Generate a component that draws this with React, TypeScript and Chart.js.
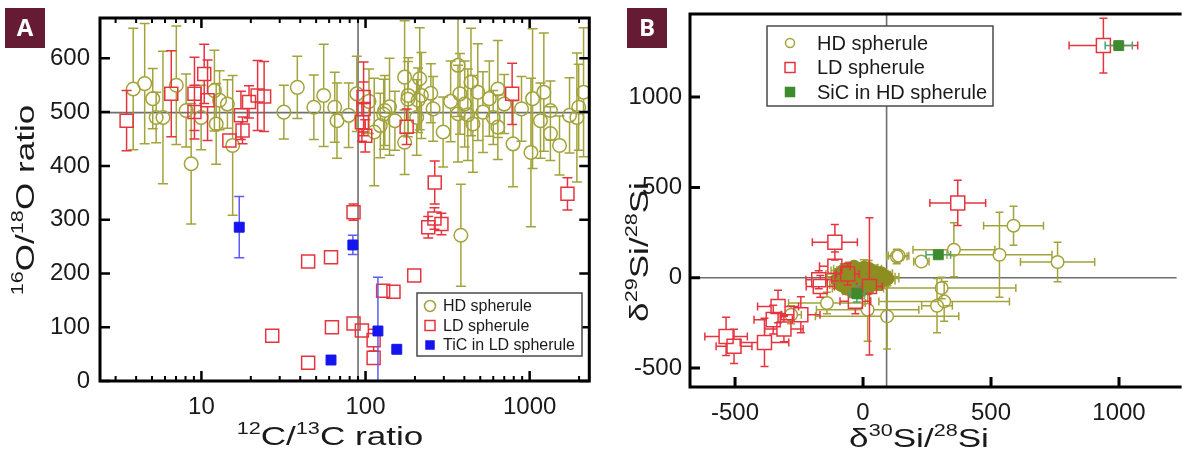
import React, { useEffect, useRef } from 'react';
import { Chart, registerables } from 'chart.js';
Chart.register(...registerables);

const FONT = "'Liberation Sans', Arial, Helvetica, sans-serif";
const TEXT = '#1a1a1a';
const OLIVE = '#a3a33b';
const BLOB = '#8d8d22';
const RED = '#e6343f';
const BLUE = '#1414ee';
const BLUE_ERR = '#5c5cf5';
const GREEN = '#3e8b2e';
const GREEN_ERR = '#4aa36a';
const REFLINE = '#6e6e6e';

// ---------------- Panel A: 12C/13C vs 16O/18O ----------------
const seriesNamesA = ['HD spherule', 'LD spherule', 'TiC in LD spherule'];
const hdA_x = [3.84, 4.51, 5.05, 5.3, 5.83, 7.03, 8.07, 8.66, 9.96, 12.0, 12.9, 12.3, 14.4, 15.5, 31.8, 38.4, 48.4, 55.6, 64.9, 67, 78.9, 88.5, 105, 113, 123, 129, 131, 140, 151, 173, 173, 181, 182, 205, 209, 214, 219, 250, 258, 297, 330, 366, 366, 376, 381, 402, 420, 439, 451, 483, 519, 568, 600, 640, 640, 700, 792, 892, 1018, 1042, 1164, 1220, 1338, 1338, 1520, 1750, 1940, 1990, 2130];
const hdA_y = [543, 553, 525, 490, 490, 550, 503, 404, 490, 540, 522, 478, 515, 438, 500, 546, 509, 531, 509, 484, 494, 534, 520, 463, 475, 496, 503, 510, 484, 565, 444, 524, 531, 490, 522, 562, 531, 535, 506, 463, 520, 587, 497, 534, 271, 515, 495, 556, 478, 537, 500, 525, 490, 543, 472, 515, 441, 506, 425, 525, 484, 537, 503, 460, 438, 494, 490, 509, 537];
const hdA_err = [113, 112, 56, 47, 123, 110, 68, 112, 60, 75, 55, 75, 45, 130, 50, 58, 60, 95, 65, 70, 60, 70, 60, 100, 60, 65, 65, 90, 55, 105, 60, 70, 70, 70, 60, 95, 80, 55, 60, 65, 75, 95, 90, 75, 95, 80, 85, 100, 90, 90, 75, 70, 50, 90, 60, 55, 80, 60, 138, 130, 70, 110, 55, 50, 55, 70, 120, 80, 120];

const ldA_x = [3.5, 6.55, 9.07, 9.07, 10.4, 10.9, 14.8, 17.4, 17.8, 19.5, 22, 24.1, 95, 97.3, 97.3, 99.6, 178, 264, 782, 1700, 44.7, 61.6, 27, 44.7, 62.4, 84.5, 84.5, 95, 112, 112, 128, 148, 198, 241, 263, 290];
const ldA_y = [484, 534, 534, 500, 571, 522, 447, 494, 466, 519, 531, 529, 481, 528, 506, 456, 473, 369, 534, 348, 222, 230, 84, 34, 100, 314, 107, 94, 76, 43, 168, 166, 196, 286, 302, 292];
const ldA_err = [56, 80, 68, 50, 55, 75, 10, 45, 25, 30, 65, 65, 35, 65, 50, 30, 33, 40, 57, 30, 0, 12, 0, 0, 0, 15, 0, 0, 20, 0, 0, 0, 0, 20, 20, 20];

const ticA_x = [17.0, 83.7, 61.6, 119, 155];
const ticA_y = [286, 253, 39, 93, 59];
const ticA_err = [57, 18, 0, 100, 0];

const xTicksA = [10, 100, 1000];
const yTicksA = [0, 100, 200, 300, 400, 500, 600];
const solarA = { c: 90, o: 499 };

// ---------------- Panel B: d30Si vs d29Si ----------------
const seriesNamesB = ['HD spherule', 'LD spherule', 'SiC in HD spherule'];
const hdB_x = [588, 533, 760, 355, 228, 132, 307, 317, 289, 18, 94, -141, -281, 139];
const hdB_y = [288, 127, 87, 155, 90, 118, -57, -131, -155, -177, -214, -140, -205, 122];
const hdB_xerr = [117, 205, 145, 160, 30, 40, 290, 255, 60, 200, 280, 150, 40, 40];
const hdB_yerr = [108, 235, 109, 150, 30, 40, 60, 110, 150, 175, 180, 60, 50, 30];

const hdBlob_x = [-100, -90, -85, -80, -75, -70, -65, -60, -55, -50, -48, -45, -40, -38, -35, -30, -28, -25, -20, -18, -15, -12, -10, -8, -5, -2, 0, 3, 5, 8, 10, 12, 15, 18, 20, 22, 25, 28, 30, 35, 40, 45, 50, 55, 60, 65, 70, 75, 85, 95];
const hdBlob_y = [-10, 20, -40, 5, 40, -25, -60, 15, 50, -10, -45, 25, -75, 0, 60, -30, 35, -55, 10, -15, 45, -40, 20, -70, -5, 30, -25, 55, -50, 5, -15, 35, -35, 15, -60, 50, -5, 25, -40, 10, -20, 30, -10, 15, -35, 5, 25, -15, 5, -5];
const hdBlob_xerr = [40, 55, 45, 60, 50, 40, 55, 45, 60, 50, 45, 55, 40, 60, 50, 45, 55, 50, 40, 60, 45, 50, 55, 40, 60, 45, 50, 55, 40, 60, 50, 45, 55, 40, 60, 50, 45, 55, 50, 40, 60, 45, 55, 50, 40, 60, 45, 50, 55, 45];
const hdBlob_yerr = [35, 40, 30, 45, 38, 42, 30, 45, 35, 40, 32, 45, 35, 40, 30, 44, 35, 40, 30, 45, 36, 40, 30, 45, 35, 42, 30, 45, 35, 40, 30, 45, 38, 40, 30, 45, 35, 40, 32, 45, 35, 40, 30, 45, 35, 40, 30, 45, 35, 40];

const ldB_x = [939, 370, -110, -535, -504, -385, -332, -351, -309, -243, -110, -167, -173, 25, -60, -30];
const ldB_y = [1285, 414, 196, -325, -380, -358, -159, -232, -284, -205, 63, -48, -11, -48, 20, -130];
const ldB_xerr = [134, 109, 88, 83, 70, 95, 80, 75, 75, 75, 60, 55, 50, 50, 45, 60];
const ldB_yerr = [152, 125, 98, 106, 95, 134, 90, 80, 70, 100, 80, 60, 50, 380, 60, 70];

const sicB_x = [999, 294, -24];
const sicB_y = [1285, 127, -89];
const sicB_xerr = [53, 48, 30];
const sicB_yerr = [20, 25, 45];

const xTicksB = [-500, 0, 500, 1000];
const yTicksB = [-500, 0, 500, 1000];
const solarB = { x: 92, y: 0 };

// ---------------- helpers ----------------
type Part = { t: string; sup?: boolean };

function ptsY(xs: number[], ys: number[], es: number[]) {
  return xs.map((x, i) => ({ x, y: ys[i], ey: es[i] }));
}
function ptsXY(xs: number[], ys: number[], exs: number[], eys: number[]) {
  return xs.map((x, i) => ({ x, y: ys[i], ex: exs[i], ey: eys[i] }));
}

function drawErrorBars(chart: any, index: number) {
  const ds: any = chart.data.datasets[index];
  const st = ds.errStyle;
  if (!st) return;
  const { ctx, chartArea: a } = chart;
  const xs = chart.scales.x;
  const ys = chart.scales.y;
  ctx.save();
  ctx.beginPath();
  ctx.rect(a.left, a.top, a.right - a.left, a.bottom - a.top);
  ctx.clip();
  ctx.strokeStyle = st.color;
  ctx.lineWidth = st.width;
  ctx.beginPath();
  const h = st.cap / 2;
  for (const p of ds.data) {
    const px = xs.getPixelForValue(p.x);
    const py = ys.getPixelForValue(p.y);
    if (p.ey) {
      const yt = ys.getPixelForValue(p.y + p.ey);
      const yb = ys.getPixelForValue(p.y - p.ey);
      if (py - yt > st.gap) {
        ctx.moveTo(px, py - st.gap); ctx.lineTo(px, yt);
        ctx.moveTo(px - h, yt); ctx.lineTo(px + h, yt);
      }
      if (yb - py > st.gap) {
        ctx.moveTo(px, py + st.gap); ctx.lineTo(px, yb);
        ctx.moveTo(px - h, yb); ctx.lineTo(px + h, yb);
      }
    }
    if (p.ex) {
      const xl = xs.getPixelForValue(p.x - p.ex);
      const xr = xs.getPixelForValue(p.x + p.ex);
      if (px - xl > st.gap) {
        ctx.moveTo(px - st.gap, py); ctx.lineTo(xl, py);
        ctx.moveTo(xl, py - h); ctx.lineTo(xl, py + h);
      }
      if (xr - px > st.gap) {
        ctx.moveTo(px + st.gap, py); ctx.lineTo(xr, py);
        ctx.moveTo(xr, py - h); ctx.lineTo(xr, py + h);
      }
    }
  }
  ctx.stroke();
  ctx.restore();
}

function drawRich(ctx: CanvasRenderingContext2D, parts: Part[], x: number, y: number, rotate: boolean, size: number, stretch: number) {
  const supSize = Math.round(size * 0.62);
  const rise = size * 0.42;
  ctx.save();
  ctx.translate(x, y);
  if (rotate) ctx.rotate(-Math.PI / 2);
  ctx.scale(stretch, 1);
  const widths = parts.map((p) => {
    ctx.font = `${p.sup ? supSize : size}px ${FONT}`;
    return ctx.measureText(p.t).width;
  });
  const total = widths.reduce((s, w) => s + w, 0);
  let cx = -total / 2;
  ctx.textAlign = 'left';
  ctx.textBaseline = 'alphabetic';
  ctx.fillStyle = TEXT;
  parts.forEach((p, i) => {
    ctx.font = `${p.sup ? supSize : size}px ${FONT}`;
    ctx.fillText(p.t, cx, p.sup ? -rise : 0);
    cx += widths[i];
  });
  ctx.restore();
}

function drawPanelLabel(ctx: CanvasRenderingContext2D, x: number, y: number, letter: string) {
  ctx.save();
  ctx.fillStyle = '#661b35';
  ctx.fillRect(x, y, 40, 40);
  ctx.fillStyle = '#ffffff';
  ctx.font = `bold 24px 'Open Sans', ${FONT}`;
  ctx.textAlign = 'center';
  ctx.textBaseline = 'middle';
  ctx.fillText(letter, x + 20, y + 21);
  ctx.restore();
}

type LegendItem = { label: string; shape: 'circle' | 'rect'; stroke: string; fill: string; size: number };
function drawLegend(ctx: CanvasRenderingContext2D, box: { x: number; y: number; w: number; h: number }, items: LegendItem[], rowY: number[], markerX: number, textX: number, fontSize: number) {
  ctx.save();
  ctx.fillStyle = '#ffffff';
  ctx.fillRect(box.x, box.y, box.w, box.h);
  ctx.strokeStyle = '#4a4a4a';
  ctx.lineWidth = 1.5;
  ctx.strokeRect(box.x, box.y, box.w, box.h);
  items.forEach((it, i) => {
    const yy = rowY[i];
    ctx.lineWidth = 1.5;
    ctx.strokeStyle = it.stroke;
    ctx.fillStyle = it.fill;
    ctx.beginPath();
    if (it.shape === 'circle') ctx.arc(markerX, yy, it.size, 0, Math.PI * 2);
    else ctx.rect(markerX - it.size / 2, yy - it.size / 2, it.size, it.size);
    ctx.fill();
    ctx.stroke();
    ctx.fillStyle = TEXT;
    ctx.font = `${fontSize}px ${FONT}`;
    ctx.textAlign = 'left';
    ctx.textBaseline = 'middle';
    ctx.fillText(it.label, textX, yy + 1);
  });
  ctx.restore();
}

const tickFont = { family: FONT, size: 24 };

// ---------------- chart A ----------------
function configA(): any {
  const minorA: number[] = [];
  for (const dec of [1, 10, 100, 1000]) for (let k = 2; k <= 9; k++) minorA.push(k * dec);

  const decor = {
    id: 'decorA',
    beforeDatasetsDraw(chart: any) {
      const { ctx, chartArea: a, scales } = chart;
      ctx.save();
      ctx.strokeStyle = REFLINE;
      ctx.lineWidth = 1.6;
      ctx.beginPath();
      const yy = scales.y.getPixelForValue(solarA.o);
      const xx = scales.x.getPixelForValue(solarA.c);
      ctx.moveTo(a.left, yy); ctx.lineTo(a.right, yy);
      ctx.moveTo(xx, a.top); ctx.lineTo(xx, a.bottom);
      ctx.stroke();
      ctx.restore();
    },
    beforeDatasetDraw(chart: any, args: any) {
      drawErrorBars(chart, args.index);
    },
    afterDraw(chart: any) {
      const { ctx, chartArea: a, scales } = chart;
      const { left, right, top, bottom } = a;
      ctx.save();
      ctx.strokeStyle = '#000';
      ctx.lineWidth = 3;
      ctx.strokeRect(left, top, right - left, bottom - top);
      ctx.lineWidth = 2.5;
      ctx.beginPath();
      xTicksA.forEach((v) => {
        const p = scales.x.getPixelForValue(v);
        ctx.moveTo(p, bottom); ctx.lineTo(p, bottom - 10);
        ctx.moveTo(p, top); ctx.lineTo(p, top + 10);
      });
      yTicksA.forEach((v) => {
        const p = scales.y.getPixelForValue(v);
        ctx.moveTo(left, p); ctx.lineTo(left + 10, p);
        ctx.moveTo(right, p); ctx.lineTo(right - 10, p);
      });
      ctx.stroke();
      ctx.lineWidth = 2;
      ctx.beginPath();
      minorA.forEach((v) => {
        if (v < scales.x.min || v > scales.x.max) return;
        const p = scales.x.getPixelForValue(v);
        ctx.moveTo(p, bottom); ctx.lineTo(p, bottom - 5);
        ctx.moveTo(p, top); ctx.lineTo(p, top + 5);
      });
      ctx.stroke();
      ctx.restore();

      drawRich(ctx, [{ t: '16', sup: true }, { t: 'O/' }, { t: '18', sup: true }, { t: 'O ratio' }], 34, 200, true, 26, 1.35);
      drawRich(ctx, [{ t: '12', sup: true }, { t: 'C/' }, { t: '13', sup: true }, { t: 'C ratio' }], 330, 445, false, 26, 1.35);

      const ds = chart.data.datasets;
      drawLegend(ctx, { x: 417, y: 293, w: 165, h: 63 }, [
        { label: ds[0].label, shape: 'circle', stroke: OLIVE, fill: '#fff', size: 5.5 },
        { label: ds[1].label, shape: 'rect', stroke: RED, fill: '#fff', size: 10 },
        { label: ds[2].label, shape: 'rect', stroke: BLUE, fill: BLUE, size: 8 },
      ], [306, 325.5, 345], 430, 443, 16);
      drawPanelLabel(ctx, 5, 8, 'A');
    },
  };

  return {
    type: 'scatter',
    data: {
      datasets: [
        {
          label: seriesNamesA[0], data: ptsY(hdA_x, hdA_y, hdA_err), order: 3,
          pointStyle: 'circle', pointRadius: 6.8, pointBorderWidth: 1.5,
          pointBorderColor: OLIVE, pointBackgroundColor: 'rgba(0,0,0,0)',
          errStyle: { color: OLIVE, width: 1.5, cap: 10, gap: 6.8 },
        },
        {
          label: seriesNamesA[1], data: ptsY(ldA_x, ldA_y, ldA_err), order: 2,
          pointStyle: 'rect', pointRadius: 9.2, pointBorderWidth: 1.5,
          pointBorderColor: RED, pointBackgroundColor: 'rgba(0,0,0,0)',
          errStyle: { color: RED, width: 1.5, cap: 10, gap: 6.5 },
        },
        {
          label: seriesNamesA[2], data: ptsY(ticA_x, ticA_y, ticA_err), order: 1,
          pointStyle: 'rect', pointRadius: 7, pointBorderWidth: 1,
          pointBorderColor: BLUE, pointBackgroundColor: BLUE,
          errStyle: { color: BLUE_ERR, width: 1.5, cap: 10, gap: 5 },
        },
      ],
    },
    options: {
      responsive: false, animation: false, devicePixelRatio: 1, events: [],
      layout: { padding: { left: 0, right: 8, top: 18, bottom: 0 } },
      plugins: { legend: { display: false }, tooltip: { enabled: false } },
      scales: {
        x: {
          type: 'logarithmic', min: 2.41, max: 2309,
          afterBuildTicks: (s: any) => { s.ticks = xTicksA.map((v) => ({ value: v })); },
          ticks: { font: tickFont, color: TEXT, padding: 12, maxRotation: 0, autoSkip: false, callback: (v: any) => String(v) },
          grid: { display: false, drawTicks: false },
          border: { display: false },
          afterFit: (s: any) => { s.height = 72; s.paddingLeft = 0; s.paddingRight = 0; },
        },
        y: {
          type: 'linear', min: 0, max: 675,
          afterBuildTicks: (s: any) => { s.ticks = yTicksA.map((v) => ({ value: v })); },
          ticks: { font: tickFont, color: TEXT, padding: 10, callback: (v: any) => String(v) },
          grid: { display: false, drawTicks: false },
          border: { display: false },
          afterFit: (s: any) => { s.width = 100; s.paddingTop = 0; s.paddingBottom = 0; },
        },
      },
    },
    plugins: [decor],
  };
}

// ---------------- chart B ----------------
function configB(): any {
  const hdOuterCount = hdB_x.length;
  const decor = {
    id: 'decorB',
    beforeDatasetsDraw(chart: any) {
      const { ctx, chartArea: a, scales } = chart;
      ctx.save();
      ctx.strokeStyle = REFLINE;
      ctx.lineWidth = 1.6;
      ctx.beginPath();
      const yy = scales.y.getPixelForValue(solarB.y);
      const xx = scales.x.getPixelForValue(solarB.x);
      ctx.moveTo(a.left, yy); ctx.lineTo(a.right, yy);
      ctx.moveTo(xx, a.top); ctx.lineTo(xx, a.bottom);
      ctx.stroke();
      ctx.restore();
    },
    beforeDatasetDraw(chart: any, args: any) {
      drawErrorBars(chart, args.index);
    },
    afterDraw(chart: any) {
      const { ctx, chartArea: a, scales } = chart;
      const { left, right, top, bottom } = a;
      ctx.save();
      ctx.strokeStyle = '#000';
      ctx.lineWidth = 3;
      ctx.beginPath();
      ctx.moveTo(right + 5, top); ctx.lineTo(left, top); ctx.lineTo(left, bottom); ctx.lineTo(right + 5, bottom);
      ctx.stroke();
      ctx.lineWidth = 3;
      ctx.beginPath();
      xTicksB.forEach((v) => {
        const p = scales.x.getPixelForValue(v);
        ctx.moveTo(p, bottom); ctx.lineTo(p, bottom - 10);
      });
      yTicksB.forEach((v) => {
        const p = scales.y.getPixelForValue(v);
        ctx.moveTo(left, p); ctx.lineTo(left + 10, p);
      });
      ctx.stroke();
      ctx.restore();

      drawRich(ctx, [{ t: 'δ' }, { t: '29', sup: true }, { t: 'Si/' }, { t: '28', sup: true }, { t: 'Si' }], 48, 252, true, 26, 1.35);
      drawRich(ctx, [{ t: 'δ' }, { t: '30', sup: true }, { t: 'Si/' }, { t: '28', sup: true }, { t: 'Si' }], 319, 447, false, 26, 1.35);

      const ds = chart.data.datasets;
      drawLegend(ctx, { x: 167, y: 26, w: 226, h: 80 }, [
        { label: ds[0].label, shape: 'circle', stroke: OLIVE, fill: '#fff', size: 4.5 },
        { label: ds[1].label, shape: 'rect', stroke: RED, fill: '#fff', size: 10 },
        { label: ds[2].label, shape: 'rect', stroke: GREEN, fill: GREEN, size: 9 },
      ], [43, 67.5, 92], 190, 217, 20);
      drawPanelLabel(ctx, 27, 8, 'B');
    },
  };

  return {
    type: 'scatter',
    data: {
      datasets: [
        {
          label: seriesNamesB[0],
          data: ptsXY(hdB_x, hdB_y, hdB_xerr, hdB_yerr).concat(ptsXY(hdBlob_x, hdBlob_y, hdBlob_xerr, hdBlob_yerr)),
          order: 3,
          pointStyle: 'circle', pointRadius: 6.3, pointBorderWidth: 1.5,
          pointBorderColor: (c: any) => (c.dataIndex >= hdOuterCount ? BLOB : OLIVE),
          pointBackgroundColor: (c: any) => (c.dataIndex >= hdOuterCount ? BLOB : 'rgba(0,0,0,0)'),
          errStyle: { color: OLIVE, width: 1.5, cap: 8, gap: 6.3 },
        },
        {
          label: seriesNamesB[1], data: ptsXY(ldB_x, ldB_y, ldB_xerr, ldB_yerr), order: 2,
          pointStyle: 'rect', pointRadius: 9.9, pointBorderWidth: 1.5,
          pointBorderColor: RED, pointBackgroundColor: 'rgba(0,0,0,0)',
          errStyle: { color: RED, width: 1.5, cap: 8, gap: 7 },
        },
        {
          label: seriesNamesB[2], data: ptsXY(sicB_x, sicB_y, sicB_xerr, sicB_yerr), order: 1,
          pointStyle: 'rect', pointRadius: 7, pointBorderWidth: 1,
          pointBorderColor: GREEN, pointBackgroundColor: GREEN,
          errStyle: { color: GREEN_ERR, width: 1.5, cap: 8, gap: 5 },
        },
      ],
    },
    options: {
      responsive: false, animation: false, devicePixelRatio: 1, events: [],
      layout: { padding: { left: 0, right: 0, top: 14, bottom: 0 } },
      plugins: { legend: { display: false }, tooltip: { enabled: false } },
      scales: {
        x: {
          type: 'linear', min: -676, max: 1225,
          afterBuildTicks: (s: any) => { s.ticks = xTicksB.map((v) => ({ value: v })); },
          ticks: { font: tickFont, color: TEXT, padding: 12, maxRotation: 0, autoSkip: false, callback: (v: any) => String(v) },
          grid: { display: false, drawTicks: false },
          border: { display: false },
          afterFit: (s: any) => { s.height = 66; s.paddingLeft = 0; s.paddingRight = 0; },
        },
        y: {
          type: 'linear', min: -605, max: 1460,
          afterBuildTicks: (s: any) => { s.ticks = yTicksB.map((v) => ({ value: v })); },
          ticks: { font: tickFont, color: TEXT, padding: 8, callback: (v: any) => String(v) },
          grid: { display: false, drawTicks: false },
          border: { display: false },
          afterFit: (s: any) => { s.width = 90; s.paddingTop = 0; s.paddingBottom = 0; },
        },
      },
    },
    plugins: [decor],
  };
}

export default function App() {
  const refA = useRef<HTMLCanvasElement>(null);
  const refB = useRef<HTMLCanvasElement>(null);
  useEffect(() => {
    const a = new Chart(refA.current as HTMLCanvasElement, configA());
    const b = new Chart(refB.current as HTMLCanvasElement, configB());
    return () => {
      a.destroy();
      b.destroy();
    };
  }, []);
  return (
    <div style={{ position: 'absolute', left: 0, top: 0, width: 1188, height: 453, overflow: 'hidden', background: '#ffffff' }}>
      <canvas ref={refA} width={600} height={453} style={{ position: 'absolute', left: 0, top: 0 }} />
      <canvas ref={refB} width={588} height={453} style={{ position: 'absolute', left: 600, top: 0 }} />
    </div>
  );
}
